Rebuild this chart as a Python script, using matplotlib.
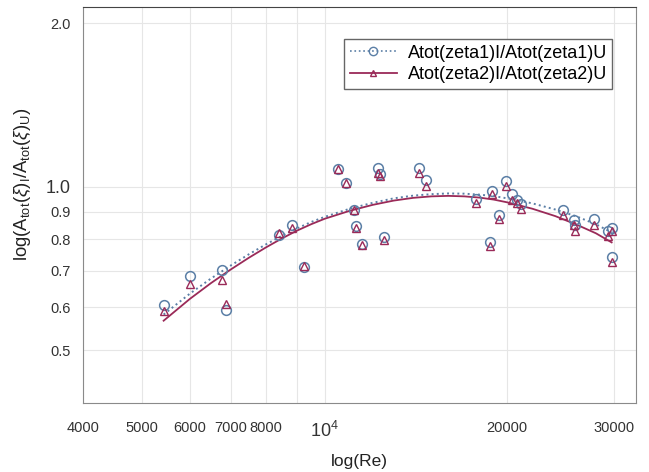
import matplotlib
matplotlib.use('Agg')
import matplotlib.pyplot as plt

plt.rcParams['font.family'] = ['Liberation Sans', 'DejaVu Sans']
plt.rcParams['mathtext.fontset'] = 'custom'
plt.rcParams['mathtext.rm'] = 'Liberation Sans'
plt.rcParams['mathtext.it'] = 'Liberation Sans:italic'

# measured points (Re, ratio)
re = [5430, 6010, 6780, 6880, 8410, 8850, 9250, 10530, 10830, 11170, 11260, 11510,
      12240, 12360, 12550, 14330, 14670, 17740, 18740, 18900, 19360, 19880, 20370,
      20760, 21050, 24670, 25760, 25860, 27830, 29280, 29720, 29720]
zeta1 = [0.607, 0.685, 0.702, 0.594, 0.816, 0.852, 0.712, 1.079, 1.018, 0.907, 0.846, 0.783,
         1.082, 1.056, 0.807, 1.082, 1.030, 0.949, 0.790, 0.984, 0.888, 1.023, 0.970,
         0.947, 0.931, 0.905, 0.867, 0.852, 0.872, 0.828, 0.840, 0.743]
zeta2 = [0.592, 0.661, 0.675, 0.609, 0.822, 0.838, 0.716, 1.079, 1.015, 0.907, 0.838, 0.780,
         1.062, 1.048, 0.797, 1.060, 1.005, 0.933, 0.777, 0.971, 0.872, 1.001, 0.947,
         0.934, 0.910, 0.888, 0.852, 0.828, 0.852, 0.812, 0.828, 0.726]

# fitted curves
fit_re = [5430, 6000, 6500, 7000, 7500, 8000, 8500, 9000, 9500, 10000, 11000, 12000,
          13000, 14000, 15000, 16000, 17000, 18000, 19000, 20000, 22000, 24000, 26000,
          28000, 29720]
fit1 = [0.582, 0.636, 0.678, 0.716, 0.751, 0.783, 0.812, 0.838, 0.861, 0.880, 0.911, 0.934,
        0.952, 0.963, 0.969, 0.972, 0.971, 0.967, 0.961, 0.952, 0.932, 0.908, 0.882,
        0.853, 0.824]
fit2 = [0.567, 0.622, 0.665, 0.704, 0.740, 0.773, 0.803, 0.830, 0.853, 0.873, 0.903, 0.926,
        0.943, 0.954, 0.960, 0.962, 0.960, 0.955, 0.947, 0.936, 0.911, 0.883, 0.852,
        0.821, 0.790]

xticks = [4000, 5000, 6000, 7000, 8000, 9000, 10000, 20000, 30000]
xticklabels = ['4000', '5000', '6000', '7000', '8000', '', r'$10^4$', '20000', '30000']
yticks = [0.5, 0.6, 0.7, 0.8, 0.9, 1.0, 2.0]
yticklabels = ['0.5', '0.6', '0.7', '0.8', '0.9', '1.0', '2.0']

c1 = '#5b7fa6'
c2 = '#9a2a58'

fig = plt.figure(figsize=(6.49, 4.72), dpi=100)
ax = fig.add_axes([0.128, 0.146, 0.852, 0.839])

ax.plot(fit_re, fit1, color=c1, ls=':', lw=1.4, zorder=2)
ax.plot(fit_re, fit2, color=c2, ls='-', lw=1.3, zorder=2)
ax.plot(re, zeta1, ls='none', marker='o', ms=7, mfc='none', mec=c1, mew=1.1, zorder=3)
ax.plot(re, zeta2, ls='none', marker='^', ms=6, mfc='none', mec=c2, mew=1.0, zorder=3)

# legend handles
ax.plot([], [], color=c1, ls=':', lw=1.2, marker='o', ms=6, mfc='none', mec=c1,
        label='Atot(zeta1)I/Atot(zeta1)U')
ax.plot([], [], color=c2, ls='-', lw=1.3, marker='^', ms=4, mfc='none', mec=c2,
        label='Atot(zeta2)I/Atot(zeta2)U')

ax.set_xscale('log')
ax.set_yscale('log')
ax.set_xlim(4000, 32600)
ax.set_ylim(0.4, 2.14)
ax.set_xticks(xticks, xticklabels)
ax.set_yticks(yticks, yticklabels)
ax.minorticks_off()
ax.tick_params(axis='x', length=0, pad=13, labelsize=10.5, colors='#333333')
ax.tick_params(axis='y', length=0, pad=9, labelsize=10.5, colors='#333333')
for lab in ax.get_xticklabels():
    if '10^4' in lab.get_text():
        lab.set_fontsize(13)
for lab in ax.get_yticklabels():
    if lab.get_text() == '1.0':
        lab.set_fontsize(13)

ax.grid(True, color='#e6e6e6', lw=0.8, zorder=0)
ax.set_axisbelow(True)
for side in ['left', 'bottom', 'right']:
    ax.spines[side].set_color('#8a8a8a')
ax.spines['top'].set_color('#444444')

ax.set_xlabel('log(Re)', fontsize=12.5, color='#222222', labelpad=9)
ax.set_ylabel(r'log(A$_{\rm tot}$($\xi$)$_{\rm I}$/A$_{\rm tot}$($\xi$)$_{\rm U}$)',
              fontsize=13.3, color='#222222')
ax.yaxis.set_label_coords(-0.09, 0.553)

ax.legend(loc='upper right', bbox_to_anchor=(0.957, 0.919), borderaxespad=0,
          fontsize=13, frameon=True, fancybox=False, edgecolor='#666666', framealpha=1,
          handlelength=2.6, handletextpad=0.6, borderpad=0.3, labelspacing=0.25)

fig.savefig('out.png', dpi=100)
